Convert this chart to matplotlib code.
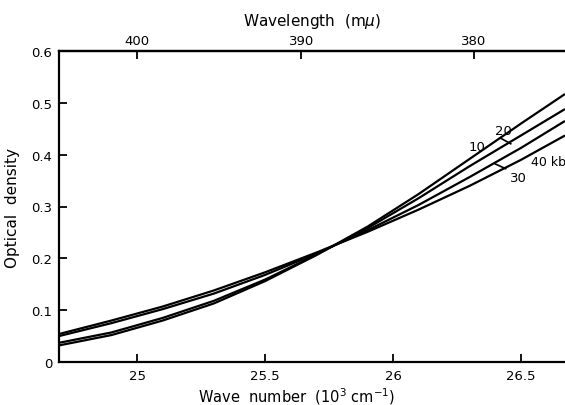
import numpy as np
import matplotlib
matplotlib.use("Agg")
import matplotlib.pyplot as plt

# wave number (10^3 cm^-1) and optical density
wavenumber = [24.695, 24.9, 25.1, 25.3, 25.5, 25.7, 25.9, 26.1, 26.3, 26.5, 26.672]
od_10kbar = [0.032, 0.052, 0.080, 0.113, 0.156, 0.206, 0.261, 0.324, 0.392, 0.460, 0.517]
od_20kbar = [0.037, 0.057, 0.085, 0.118, 0.159, 0.207, 0.258, 0.316, 0.378, 0.437, 0.488]
od_30kbar = [0.050, 0.075, 0.102, 0.132, 0.168, 0.209, 0.254, 0.303, 0.357, 0.413, 0.465]
od_40kbar = [0.054, 0.080, 0.107, 0.138, 0.173, 0.211, 0.251, 0.294, 0.340, 0.390, 0.437]

x_ticks = [25, 25.5, 26, 26.5]
x_ticklabels = ["25", "25.5", "26", "26.5"]
y_ticks = [0, 0.1, 0.2, 0.3, 0.4, 0.5, 0.6]
y_ticklabels = ["0", "0.1", "0.2", "0.3", "0.4", "0.5", "0.6"]
wl_ticks = [400, 390, 380]

plt.rcParams['font.family'] = ['DejaVu Sans']

fig = plt.figure(figsize=(5.65, 4.06), dpi=100)
ax = fig.add_axes([59 / 565, 1 - 363 / 406, 1 - 59 / 565, (363 - 52) / 406])

for od in [od_10kbar, od_20kbar, od_30kbar, od_40kbar]:
    ax.plot(wavenumber, od, color='black', lw=1.6, solid_capstyle='butt')

ax.set_xlim(24.695, 26.672)
ax.set_ylim(0, 0.6)
ax.set_xticks(x_ticks)
ax.set_xticklabels(x_ticklabels, fontsize=9.5)
ax.set_yticks(y_ticks)
ax.set_yticklabels(y_ticklabels, fontsize=9.5)
ax.tick_params(direction='in', length=6, width=1.3, pad=5)
ax.spines['right'].set_visible(False)
for s in ['left', 'bottom', 'top']:
    ax.spines[s].set_linewidth(1.6)

ax.set_xlabel("Wave  number  (10$^3$ cm$^{-1}$)", fontsize=10.5)
ax.xaxis.set_label_coords(0.47, -0.075)
ax.set_ylabel("Optical  density", fontsize=11, labelpad=8)

top = ax.secondary_xaxis('top', functions=(lambda x: 1e4 / np.asarray(x, float),
                                           lambda w: 1e4 / np.asarray(w, float)))
top.set_xticks(wl_ticks)
top.set_xticklabels([str(w) for w in wl_ticks], fontsize=9.5)
top.tick_params(direction='in', length=6, width=1.3, pad=3)
top.spines['top'].set_linewidth(1.6)
top.set_xlabel("Wavelength  (m$\\mu$)", fontsize=11, labelpad=6)

# curve labels
ax.text(26.33, 0.415, "10", fontsize=9.5, ha='center', va='center')
ax.text(26.43, 0.447, "20", fontsize=9.5, ha='center', va='center')
ax.plot([26.42, 26.46], [0.432, 0.421], color='black', lw=1.2)
ax.text(26.49, 0.355, "30", fontsize=9.5, ha='center', va='center')
ax.plot([26.40, 26.44], [0.382, 0.373], color='black', lw=1.2)
ax.text(26.54, 0.386, "40 kbar", fontsize=9, ha='left', va='center', clip_on=False)

fig.savefig("out.png", dpi=100)
